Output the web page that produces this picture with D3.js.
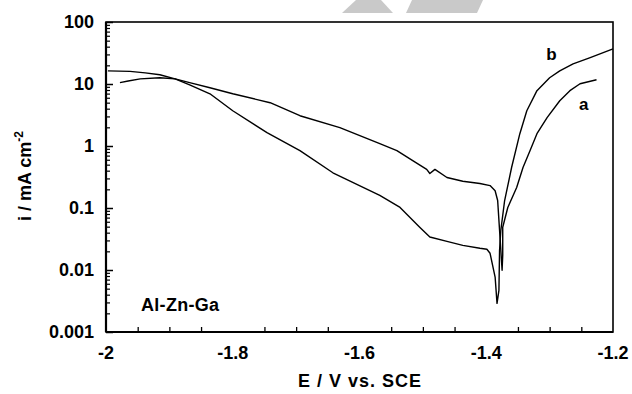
<!DOCTYPE html>
<html>
<head>
<meta charset="utf-8">
<script src="https://cdn.jsdelivr.net/npm/d3@7"></script>
<style>
  html, body { margin: 0; padding: 0; background: #fff; overflow: hidden; }
  svg { display: block; }
  svg text { font-family: "Liberation Sans", Arial, sans-serif; font-weight: bold; fill: #000; }
</style>
</head>
<body>
<svg id="chart"></svg>
<script>
// polarization curves, Al-Zn-Ga  [E (V vs SCE), i (mA cm-2)]
const curveA = [
  [-1.978, 10.5], [-1.965, 11.2], [-1.946, 12.1], [-1.915, 12.6], [-1.891, 12.1],
  [-1.868, 10.5], [-1.836, 8.7], [-1.800, 6.95], [-1.741, 4.99], [-1.694, 3.08],
  [-1.631, 1.98], [-1.568, 1.09], [-1.541, 0.84], [-1.516, 0.58], [-1.494, 0.42],
  [-1.489, 0.36], [-1.481, 0.42], [-1.462, 0.31], [-1.437, 0.27], [-1.410, 0.248],
  [-1.394, 0.23], [-1.386, 0.19], [-1.382, 0.132], [-1.379, 0.044], [-1.375, 0.0099],
  [-1.374, 0.0173], [-1.374, 0.049], [-1.366, 0.102], [-1.352, 0.214], [-1.342, 0.45],
  [-1.331, 0.84], [-1.320, 1.58], [-1.304, 2.86], [-1.284, 5.37], [-1.268, 7.8],
  [-1.252, 10.1], [-1.226, 11.7]
];
const curveB = [
  [-1.997, 16.3], [-1.962, 16.0], [-1.938, 15.1], [-1.915, 14.1], [-1.891, 12.1],
  [-1.868, 9.7], [-1.836, 6.95], [-1.800, 3.7], [-1.746, 1.64], [-1.694, 0.84],
  [-1.642, 0.37], [-1.568, 0.16], [-1.536, 0.102], [-1.505, 0.049], [-1.489, 0.034],
  [-1.462, 0.029], [-1.437, 0.025], [-1.410, 0.0224], [-1.399, 0.0216], [-1.394, 0.0186],
  [-1.386, 0.0077], [-1.383, 0.0029], [-1.380, 0.0047], [-1.379, 0.0208], [-1.377, 0.0437],
  [-1.371, 0.132], [-1.360, 0.45], [-1.347, 1.58], [-1.336, 3.7], [-1.320, 7.8],
  [-1.300, 12.6], [-1.284, 16.3], [-1.263, 21.1], [-1.237, 26.4], [-1.200, 36.8]
];
const xTicks = [-2, -1.8, -1.6, -1.4, -1.2];
const xTickLabels = ['-2', '-1.8', '-1.6', '-1.4', '-1.2'];
const yTicks = [0.001, 0.01, 0.1, 1, 10, 100];
const yTickLabels = ['0.001', '0.01', '0.1', '1', '10', '100'];
const curveLabels = [['b', -1.297, 30.5], ['a', -1.246, 4.8]];

const width = 632, height = 394;
const margin = { top: 22, right: 19, bottom: 62, left: 106 };
const innerWidth = width - margin.left - margin.right;
const innerHeight = height - margin.top - margin.bottom;

const svg = d3.select('#chart').attr('width', width).attr('height', height);

// grey watermark bits at the top edge
svg.append('polygon').attr('points', '342,13 356,0 381,0 393,13').attr('fill', '#c9c9c9');
svg.append('polygon').attr('points', '406,13 412,0 483,0 477,13').attr('fill', '#c9c9c9');

const g = svg.append('g').attr('transform', `translate(${margin.left},${margin.top})`);

const x = d3.scaleLinear().domain([-2, -1.2]).range([0, innerWidth]);
const y = d3.scaleLog().domain([0.001, 100]).range([innerHeight, 0]);

const line = d3.line().x(d => x(d[0])).y(d => y(d[1]));

[curveA, curveB].forEach(c => {
  g.append('path').datum(c)
    .attr('d', line)
    .attr('fill', 'none')
    .attr('stroke', '#000')
    .attr('stroke-width', 1.4)
    .attr('stroke-linejoin', 'round');
});

// x axis, inward ticks
const xMinor = d3.range(-1.95, -1.2, 0.05).filter(v => !xTicks.some(t => Math.abs(t - v) < 1e-6));
const xAxis = g.append('g').attr('transform', `translate(0,${innerHeight})`);
xAxis.call(d3.axisBottom(x).tickValues(xMinor).tickSize(-5).tickFormat(''));
xAxis.select('.domain').remove();
xAxis.selectAll('text').remove();
xAxis.selectAll('line').attr('stroke-width', 1.3);

// y axis, inward ticks
const yMinor = [];
for (let e = -3; e < 2; e++) for (let k = 2; k <= 9; k++) yMinor.push(k * Math.pow(10, e));
const yAxisMinor = g.append('g').call(d3.axisLeft(y).tickValues(yMinor).tickSize(-4).tickFormat(''));
yAxisMinor.select('.domain').remove();
yAxisMinor.selectAll('text').remove();
yAxisMinor.selectAll('line').attr('stroke-width', 1.2);
const yAxisMajor = g.append('g').call(d3.axisLeft(y).tickValues(yTicks).tickSize(-7).tickFormat(''));
yAxisMajor.select('.domain').remove();
yAxisMajor.selectAll('text').remove();
yAxisMajor.selectAll('line').attr('stroke-width', 1.5);

// frame
g.append('rect').attr('width', innerWidth).attr('height', innerHeight)
  .attr('fill', 'none').attr('stroke', '#000').attr('stroke-width', 1.6);
g.append('line').attr('x1', 0).attr('x2', innerWidth).attr('y1', innerHeight).attr('y2', innerHeight)
  .attr('stroke', '#000').attr('stroke-width', 2.2);
g.append('line').attr('x1', 0).attr('x2', 0).attr('y1', 0).attr('y2', innerHeight)
  .attr('stroke', '#000').attr('stroke-width', 2.2);

// tick labels
g.selectAll('.xl').data(xTicks).enter().append('text')
  .attr('x', d => x(d)).attr('y', innerHeight + 27)
  .attr('text-anchor', 'middle').attr('font-size', 18)
  .text((d, i) => xTickLabels[i]);

g.selectAll('.yl').data(yTicks).enter().append('text')
  .attr('x', -12).attr('y', d => y(d)).attr('dy', '0.36em')
  .attr('text-anchor', 'end').attr('font-size', 18)
  .text((d, i) => yTickLabels[i]);

// axis titles
svg.append('text').attr('x', 360).attr('y', 387)
  .attr('text-anchor', 'middle').attr('font-size', 18).attr('letter-spacing', 1)
  .text('E / V vs. SCE');

const yt = svg.append('text').attr('transform', 'translate(31,176) rotate(-90)')
  .attr('text-anchor', 'middle').attr('font-size', 18);
yt.append('tspan').text('i / mA cm');
yt.append('tspan').attr('font-size', 12).attr('dy', -8).text('-2');

// annotations
g.selectAll('.cl').data(curveLabels).enter().append('text')
  .attr('x', d => x(d[1])).attr('y', d => y(d[2])).attr('dy', '0.35em')
  .attr('text-anchor', 'middle').attr('font-size', 17)
  .text(d => d[0]);

g.append('text').attr('x', 35).attr('y', innerHeight - 21)
  .attr('font-size', 18).attr('letter-spacing', 0.3).text('Al-Zn-Ga');
</script>
</body>
</html>
